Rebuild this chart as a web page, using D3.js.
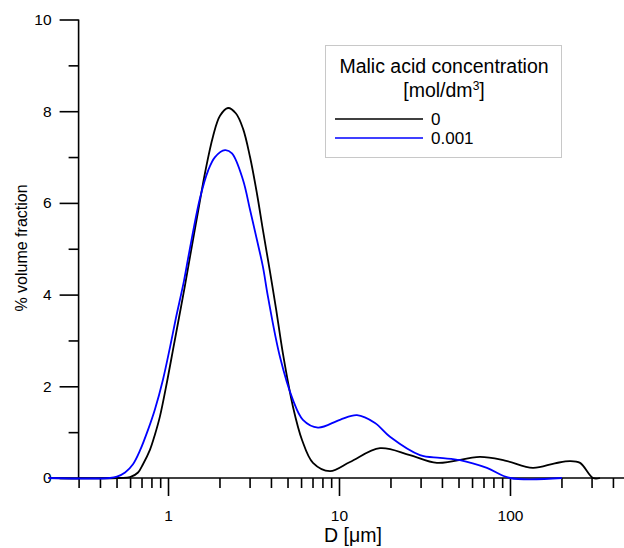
<!DOCTYPE html>
<html>
<head>
<meta charset="utf-8">
<script src="https://cdnjs.cloudflare.com/ajax/libs/d3/7.8.5/d3.min.js"></script>
<style>
    body { margin: 0; background: #fff; }
    svg text { font-family: "Liberation Sans", Arial, sans-serif; }
</style>
</head>
<body>
<div id="chart"></div>
<script>
// Particle size distribution, two malic acid concentrations

// D values [um] and % volume fraction
let dBlack = [0.2, 0.52, 0.6, 0.668, 0.714, 0.785, 0.839, 0.898, 0.987, 1.07, 1.16, 1.257, 1.363, 1.497,
    1.645, 1.833, 2.014, 2.243, 2.498, 2.746, 3.018, 3.314, 3.593, 3.948, 4.28, 4.706, 5.384, 6.079,
    7.045, 8.856, 11.6, 17.37, 26.0, 37.4, 66.8, 93.5, 136, 183, 224, 257, 306, 336];
let vBlack = [0, 0, 0.02, 0.12, 0.3, 0.62, 0.95, 1.35, 2.1, 2.8, 3.5, 4.2, 4.95, 5.8,
    6.65, 7.45, 7.9, 8.07, 7.95, 7.62, 7.0, 6.2, 5.4, 4.5, 3.7, 2.7, 1.55, 0.83,
    0.33, 0.15, 0.35, 0.65, 0.5, 0.33, 0.46, 0.38, 0.22, 0.32, 0.37, 0.33, 0, 0];

let dBlue = [0.2, 0.458, 0.503, 0.561, 0.624, 0.686, 0.764, 0.839, 0.935, 1.027, 1.114, 1.24, 1.327, 1.538,
    1.714, 1.883, 2.154, 2.367, 2.746, 3.018, 3.314, 3.593, 3.844, 4.518, 5.384, 6.152, 7.536, 10.13,
    12.74, 16.24, 19.87, 29.77, 38.98, 51.0, 73.3, 100, 201];
let vBlue = [0, 0, 0.03, 0.12, 0.3, 0.6, 1.05, 1.5, 2.15, 2.85, 3.5, 4.3, 4.9, 6.1,
    6.7, 7.0, 7.15, 7.08, 6.5, 5.85, 5.19, 4.6, 3.95, 2.64, 1.7, 1.27, 1.1, 1.27,
    1.37, 1.2, 0.9, 0.5, 0.44, 0.39, 0.22, 0, 0];

let seriesNames = ["0", "0.001"];
let seriesColors = ["#000000", "#0000ff"];

// tick values
let yMajor = [0, 2, 4, 6, 8, 10];
let yMinor = [1, 3, 5, 7, 9];
let xMajor = [1, 10, 100];
let xMinor = [0.3, 0.4, 0.5, 0.6, 0.7, 0.8, 0.9, 2, 3, 4, 5, 6, 7, 8, 9,
    20, 30, 40, 50, 60, 70, 80, 90, 200, 300, 400];

let width = 624;
let height = 548;

// scales
let x = d3.scaleLog().domain([0.3, 500]).range([78.6, 629.5]);
let y = d3.scaleLinear().domain([0, 10]).range([478, 19.5]);

let svg = d3.select("#chart")
    .append("svg")
    .attr("width", width)
    .attr("height", height);

// Y axis (major ticks labelled, minor ticks shorter)
let yAxis = svg.append("g")
    .attr("transform", `translate(${x(0.3)},0)`)
    .call(d3.axisLeft(y).tickValues(yMajor).tickSize(19).tickPadding(8).tickFormat(d3.format("d")));

svg.append("g")
    .attr("transform", `translate(${x(0.3)},0)`)
    .call(d3.axisLeft(y).tickValues(yMinor).tickSize(10).tickFormat(""))
    .select(".domain").remove();

// X axis
let xAxis = svg.append("g")
    .attr("transform", `translate(0,${y(0)})`)
    .call(d3.axisBottom(x).tickValues(xMajor).tickSize(18).tickPadding(14).tickFormat(d3.format("d")));

svg.append("g")
    .attr("transform", `translate(0,${y(0)})`)
    .call(d3.axisBottom(x).tickValues(xMinor).tickSize(10).tickFormat(""))
    .select(".domain").remove();

// plain axis lines, no end ticks
yAxis.select(".domain").attr("d", `M0,${y(0)}V${y(10)}`);
xAxis.select(".domain").attr("d", `M${x(0.3)},0H${width}`);

svg.selectAll(".domain, .tick line")
    .attr("stroke", "#000")
    .attr("stroke-width", 1.6);

svg.selectAll(".tick text")
    .attr("fill", "#000")
    .style("font-size", "15.5px");

// axis titles
svg.append("text")
    .attr("x", 353)
    .attr("y", 542)
    .attr("text-anchor", "middle")
    .style("font-size", "19.5px")
    .text("D [μm]");

svg.append("text")
    .attr("transform", "translate(27,248) rotate(-90)")
    .attr("text-anchor", "middle")
    .style("font-size", "16px")
    .text("% volume fraction");

// curves
let line = d3.line()
    .x(d => x(d[0]))
    .y(d => y(d[1]))
    .curve(d3.curveCatmullRom.alpha(0.5));

let series = [d3.zip(dBlack, vBlack), d3.zip(dBlue, vBlue)];

svg.append("g")
    .selectAll("path")
    .data(series)
    .enter().append("path")
    .attr("d", line)
    .attr("fill", "none")
    .attr("stroke", (d, i) => seriesColors[i])
    .attr("stroke-width", 1.8);

// Legend
let legend = svg.append("g");

legend.append("rect")
    .attr("x", 325.5)
    .attr("y", 45.5)
    .attr("width", 236)
    .attr("height", 112)
    .attr("fill", "#fff")
    .attr("stroke", "#c8c8c8");

legend.append("text")
    .attr("x", 444)
    .attr("y", 73)
    .attr("text-anchor", "middle")
    .style("font-size", "19.5px")
    .text("Malic acid concentration");

let unit = legend.append("text")
    .attr("x", 444)
    .attr("y", 97)
    .attr("text-anchor", "middle")
    .style("font-size", "19.5px");
unit.append("tspan").text("[mol/dm");
unit.append("tspan").attr("dy", -7).style("font-size", "12px").text("3");
unit.append("tspan").attr("dy", 7).text("]");

let rows = legend.selectAll(".row")
    .data(seriesNames)
    .enter().append("g")
    .attr("class", "row")
    .attr("transform", (d, i) => `translate(0,${119 + i * 19})`);

rows.append("line")
    .attr("x1", 335)
    .attr("x2", 423)
    .attr("stroke", (d, i) => seriesColors[i])
    .attr("stroke-width", 1.6);

rows.append("text")
    .attr("x", 431)
    .attr("y", 6)
    .style("font-size", "17px")
    .text(d => d);
</script>
</body>
</html>
